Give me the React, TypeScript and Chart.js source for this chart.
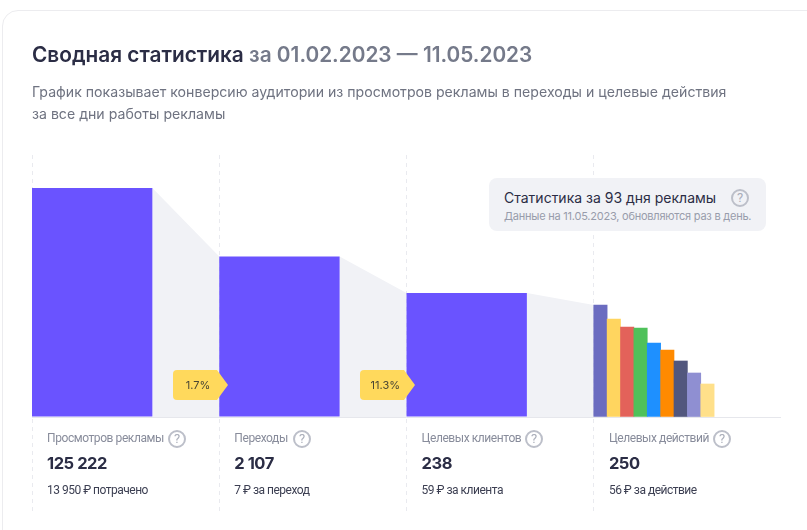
import React, { useEffect, useRef } from "react";
import { Chart, registerables } from "chart.js";

Chart.register(...registerables);

const FONT = "Inter, 'Noto Sans', sans-serif";
const SMALL_FONT = "Roboto, 'Noto Sans', sans-serif";

// Heights of the marks (the chart has no value axis)
const funnelHeights = [229, 160.5, 124];
const actionHeights = [112, 98, 90, 89, 74, 67, 56, 44, 33];
const actionColors = ["#6b6cc0", "#ffd55f", "#e3625a", "#4fc15a", "#1e90ff", "#ff8a00", "#52577e", "#8f8fd2", "#ffe08a"];

const statLabels = ["Просмотров рекламы", "Переходы", "Целевых клиентов", "Целевых действий"];
const statValues = ["125 222", "2 107", "238", "250"];
const statNotes = ["13 950 ₽ потрачено", "7 ₽ за переход", "59 ₽ за клиента", "56 ₽ за действие"];
const conversions = ["1.7%", "11.3%"];

const SLOTS_PER_COLUMN = 14;
const BAR_SLOTS = 9;

function Help({ x, y }: { x: number; y: number }) {
  return (
    <div
      style={{
        position: "absolute", left: x - 9, top: y - 9, width: 18, height: 18, boxSizing: "border-box",
        border: "2px solid #bcbfc9", borderRadius: "50%", color: "#a9adb9", fontSize: 13,
        fontFamily: SMALL_FONT, lineHeight: "14px", textAlign: "center",
      }}
    >
      ?
    </div>
  );
}

function Text({ x, y, size, color, weight = 400, spacing = 0, font = FONT, children }: any) {
  return (
    <div
      style={{
        position: "absolute", left: x, top: y, fontSize: size, color, fontWeight: weight, fontFamily: font,
        letterSpacing: spacing, lineHeight: "1", whiteSpace: "nowrap",
      }}
    >
      {children}
    </div>
  );
}

export default function App() {
  const ref = useRef<HTMLCanvasElement>(null);

  useEffect(() => {
    document.body.style.margin = "0";
    const columnStart = (i: number) => i * SLOTS_PER_COLUMN;
    const allTops = [...funnelHeights, actionHeights[0]];
    const connectors = funnelHeights.map((h, i) => ({
      type: "line" as const,
      data: [
        { x: columnStart(i) + BAR_SLOTS, y: h },
        { x: columnStart(i + 1), y: allTops[i + 1] },
      ],
      borderWidth: 0,
      pointRadius: 0,
      backgroundColor: "#f1f2f6",
      fill: { value: 0 },
      order: 5,
      tension: 0,
    }));
    const chart = new Chart(ref.current!, {
      type: "bar",
      data: {
        datasets: [
          {
            data: funnelHeights.map((h, i) => ({ x: columnStart(i) + BAR_SLOTS / 2, y: h })),
            backgroundColor: "#6a53ff",
            barPercentage: BAR_SLOTS,
            categoryPercentage: 1,
            grouped: false,
            order: 1,
          },
          {
            data: actionHeights.map((h, i) => ({ x: columnStart(3) + i + 0.5, y: h })),
            backgroundColor: actionColors,
            barPercentage: 1,
            categoryPercentage: 1,
            grouped: false,
            order: 1,
          },
          ...connectors,
        ] as any,
      },
      options: {
        animation: false,
        responsive: false,
        layout: { padding: { left: 32, right: 26, top: 155, bottom: 17 } },
        plugins: { legend: { display: false }, tooltip: { enabled: false } },
        scales: {
          x: {
            type: "linear",
            min: 0,
            max: 4 * SLOTS_PER_COLUMN,
            offset: false,
            ticks: { display: false, stepSize: SLOTS_PER_COLUMN },
            afterBuildTicks: (s: any) => { s.ticks = s.ticks.filter((t: any) => t.value < 4 * SLOTS_PER_COLUMN); },
            grid: { offset: false, color: "#e9eaef", lineWidth: 1, drawTicks: false },
            border: { display: false, dash: [4, 4] },
          },
          y: {
            type: "linear",
            min: -96,
            max: 262,
            ticks: { display: false },
            afterBuildTicks: (s: any) => { s.ticks = [{ value: 0 }]; },
            grid: { color: "#e6e7ec", lineWidth: 1, drawTicks: false },
            border: { display: false },
          },
        },
      },
    });
    return () => chart.destroy();
  }, []);

  return (
    <div style={{ position: "relative", width: 807, height: 530, overflow: "hidden", background: "#fff", fontFamily: FONT }}>
      <div style={{ position: "absolute", left: 2, top: 10, width: 1000, height: 1000, boxSizing: "border-box", border: "1px solid #ececef", borderRadius: 16 }} />
      <canvas ref={ref} width={807} height={530} style={{ position: "absolute", left: 0, top: 0 }} />

      <Text x={32} y={45} size={20.8} color="#2b2d45" weight={600}>
        Сводная статистика <span style={{ color: "#757a8a" }}>за 01.02.2023 — 11.05.2023</span>
      </Text>
      <Text x={32} y={85} size={14.14} color="#6f7381">График показывает конверсию аудитории из просмотров рекламы в переходы и целевые действия</Text>
      <Text x={32} y={107} size={14.14} color="#6f7381">за все дни работы рекламы</Text>

      <div style={{ position: "absolute", left: 489, top: 178, width: 277, height: 53, borderRadius: 8, background: "#f1f2f6" }} />
      <Text x={504} y={191} size={14} color="#2b2d45">Статистика за 93 дня рекламы</Text>
      <Text x={504} y={211} size={11} spacing={-0.23} color="#989cab">Данные на 11.05.2023, обновляются раз в день.</Text>
      <Help x={740} y={198} />

      {conversions.map((c, i) => (
        <React.Fragment key={c}>
          <svg style={{ position: "absolute", left: 173 + i * 187.3, top: 370 }} width={56} height={30}>
            <path d="M4 0H44L55 15L44 30H4Q0 30 0 26V4Q0 0 4 0Z" fill="#ffd95c" />
          </svg>
          <div style={{ position: "absolute", left: 173 + i * 187.3, top: 379, width: 50, textAlign: "center", fontSize: 11, lineHeight: "12px", color: "#4a4634" }}>{c}</div>
        </React.Fragment>
      ))}

      {statLabels.map((label, i) => {
        const x = 47 + i * 187.3;
        const helpX = [177, 302, 534, 722][i];
        return (
          <React.Fragment key={label}>
            <Text x={x} y={432} size={12} spacing={-0.42} color="#888c9b" font={SMALL_FONT}>{label}</Text>
            <Help x={helpX} y={438.5} />
            <Text x={x} y={455} size={16.5} spacing={-0.45} color="#2b2d45" weight={700}>{statValues[i]}</Text>
            <Text x={x} y={484} size={12} spacing={-0.5} color="#3c3f52" font={SMALL_FONT}>{statNotes[i]}</Text>
          </React.Fragment>
        );
      })}
    </div>
  );
}
